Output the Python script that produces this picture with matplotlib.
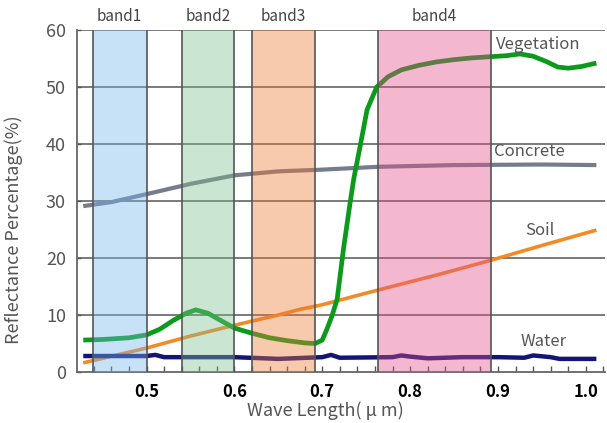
import numpy as np
import matplotlib
matplotlib.use("Agg")
from matplotlib import pyplot as plt

plt.rcParams['font.family'] = ['Noto Sans CJK JP', 'DejaVu Sans']

# spectral bands (micrometre ranges as drawn)
band_names = ["band1", "band2", "band3", "band4"]
band_lo = [0.439, 0.540, 0.620, 0.764]
band_hi = [0.500, 0.600, 0.692, 0.892]
band_colors = ["#75b6ed", "#7fbe91", "#eb7834", "#e34d87"]

# vegetation
wl_veg = [0.428, 0.45, 0.48, 0.50, 0.515, 0.53, 0.545, 0.556, 0.57, 0.585, 0.60,
          0.62, 0.64, 0.66, 0.68, 0.692, 0.70, 0.705, 0.711, 0.717, 0.724, 0.732,
          0.736, 0.743, 0.751, 0.762, 0.775, 0.79, 0.81, 0.83, 0.85, 0.87, 0.89,
          0.91, 0.925, 0.94, 0.956, 0.968, 0.98, 0.995, 1.012]
veg = [5.6, 5.7, 6.0, 6.5, 7.5, 9.0, 10.3, 10.9, 10.3, 9.0, 7.7,
       6.8, 6.0, 5.5, 5.1, 5.0, 5.6, 7.4, 9.8, 12.8, 21.4, 30.0,
       34.0, 39.5, 46.0, 50.0, 51.8, 53.0, 53.8, 54.4, 54.8, 55.1, 55.3,
       55.5, 55.8, 55.4, 54.4, 53.5, 53.3, 53.6, 54.2]

# concrete
wl_con = [0.428, 0.46, 0.50, 0.55, 0.60, 0.65, 0.70, 0.764, 0.85, 0.95, 1.012]
con = [29.1, 29.8, 31.2, 33.0, 34.5, 35.2, 35.5, 36.0, 36.3, 36.4, 36.3]

# soil
wl_soil = [0.428, 0.50, 0.55, 0.60, 0.65, 0.675, 0.70, 0.764, 0.83, 0.892, 0.95, 1.012]
soil = [1.6, 4.2, 6.3, 8.2, 10.0, 11.0, 11.8, 14.4, 17.0, 19.6, 22.2, 24.9]

# water
wl_wat = [0.428, 0.50, 0.51, 0.52, 0.60, 0.65, 0.70, 0.71, 0.72, 0.78, 0.79, 0.80,
          0.82, 0.86, 0.90, 0.93, 0.94, 0.96, 0.97, 1.012]
wat = [2.8, 2.8, 3.0, 2.6, 2.6, 2.3, 2.6, 3.0, 2.5, 2.6, 2.9, 2.7,
       2.4, 2.6, 2.6, 2.5, 2.9, 2.6, 2.3, 2.3]

series_labels = ["Vegetation", "Concrete", "Soil", "Water"]
label_x = [0.898, 0.895, 0.931, 0.926]
label_y = [57.5, 38.6, 24.9, 5.3]

fig = plt.figure(figsize=(6.07, 4.23), dpi=100)
ax = fig.add_axes([0.127, 0.1206, 0.870, 0.8085])

ax.plot(wl_con, con, color="#767c8c", lw=3, solid_capstyle="butt", zorder=2)
ax.plot(wl_soil, soil, color="#f28a26", lw=2.6, solid_capstyle="butt", zorder=2)
ax.plot(wl_wat, wat, color="#141478", lw=3.2, solid_capstyle="butt", zorder=2)
ax.plot(wl_veg, veg, color="#0c9a1c", lw=3.4, solid_capstyle="butt",
        solid_joinstyle="round", zorder=2)

for name, lo, hi, c in zip(band_names, band_lo, band_hi, band_colors):
    ax.axvspan(lo, hi, color=c, alpha=0.4, lw=0, zorder=3)
    ax.axvline(lo, color="#555555", lw=1.2, zorder=4)
    ax.axvline(hi, color="#555555", lw=1.2, zorder=4)
    ax.text((lo + hi) / 2, 60.8, name, ha="center", va="bottom",
            fontsize=11, color="#444444")

for y in range(10, 61, 10):
    ax.axhline(y, color="#707070", lw=1.3, zorder=1)

for name, x, y in zip(series_labels, label_x, label_y):
    ax.text(x, y, name, ha="left", va="center", fontsize=12, color="#555555", zorder=5)

ax.set_xlim(0.421, 1.022)
ax.set_ylim(0, 60)
ax.set_xticks([0.5, 0.6, 0.7, 0.8, 0.9, 1.0])
ax.set_xticklabels(["0.5", "0.6", "0.7", "0.8", "0.9", "1.0"])
ax.set_xticks(np.arange(0.44, 1.02, 0.02), minor=True)
ax.set_yticks(range(0, 61, 10))
ax.tick_params(axis="x", which="both", direction="in", length=4, width=1,
               color="#555555", pad=8, labelsize=12, labelcolor="black")
for t in ax.get_xticklabels():
    t.set_fontweight("bold")
ax.tick_params(axis="y", direction="in", length=3, width=1, color="#555555",
               pad=8, labelsize=13, labelcolor="#555555")

for s in ["top", "right"]:
    ax.spines[s].set_visible(False)
for s in ["left", "bottom"]:
    ax.spines[s].set_color("#666666")
    ax.spines[s].set_linewidth(1.3)

ax.set_xlabel("Wave Length( μ m)", fontsize=13, color="#555555")
ax.xaxis.set_label_coords(0.47, -0.085)
ax.set_ylabel("Reflectance Percentage(%)", fontsize=13, color="#555555")
ax.yaxis.set_label_coords(-0.102, 0.415)

fig.savefig("out.png", dpi=100)
